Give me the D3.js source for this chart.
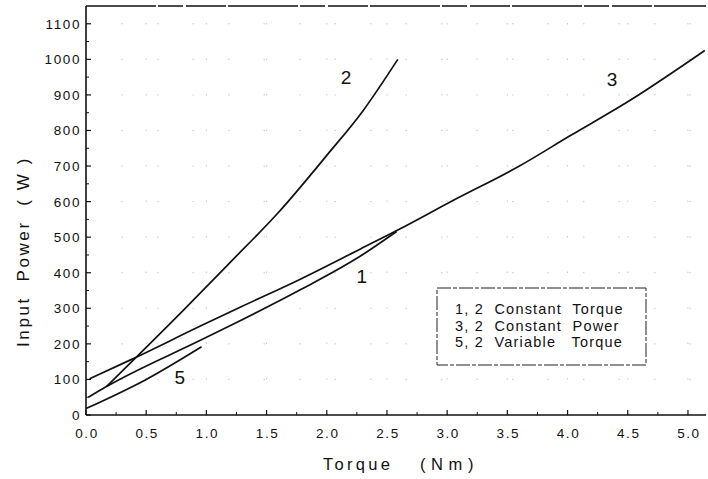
<!DOCTYPE html>
<html>
<head>
<meta charset="utf-8">
<script src="https://cdn.jsdelivr.net/npm/d3@7"></script>
<style>
  body { margin: 0; background: #fff; }
  text { font-family: "Liberation Sans", Arial, sans-serif; fill: #111; }
</style>
</head>
<body>
<div id="chart"></div>
<script>
// values
var curve1 = [[0.02,50],[0.17,80],[0.95,210],[1.28,265],[1.78,352],[2.28,447],[2.58,516]];
var curve2 = [[0.17,80],[0.38,150],[0.81,295],[1.2,430],[1.6,570],[2.0,730],[2.3,855],[2.59,1000]];
var curve3 = [[0.03,102],[0.37,155],[0.95,250],[1.28,303],[1.78,382],[2.28,467],[2.59,520],[3.06,605],[3.6,700],[4.02,785],[4.52,885],[5.14,1025]];
var curve5 = [[0.0,18],[0.5,100],[0.96,192]];

var curveLabels = [
  {t:"2", x:2.16, y:930},
  {t:"3", x:4.37, y:925},
  {t:"1", x:2.29, y:370},
  {t:"5", x:0.78, y:87}
];

var xTicks = [0,0.5,1,1.5,2,2.5,3,3.5,4,4.5,5];
var xMinor = [0.25,0.75,1.25,1.75,2.25,2.75,3.25,3.75,4.25,4.75];
var yTicks = [0,100,200,300,400,500,600,700,800,900,1000,1100];
var yMinor = [50,150,250,350,450,550,650,750,850,950,1050];
var legendLines = ["1, 2  Constant  Torque","3, 2  Constant  Power","5, 2  Variable   Torque"];

var W = 708, H = 479;
var svg = d3.select("#chart").append("svg")
  .attr("width", W)
  .attr("height", H);

var x = d3.scaleLinear().domain([0,5.15]).range([86,706]);
var y = d3.scaleLinear().domain([0,1150]).range([415,6]);

// faint dotted grid (scan leftovers)
var grid = svg.append("g").attr("stroke","#888").attr("stroke-width",1)
  .attr("stroke-dasharray","1.5,34").attr("opacity",0.45);
grid.selectAll(".gx").data(xTicks.slice(1)).enter().append("line")
  .attr("x1",function(d){return x(d);}).attr("x2",function(d){return x(d);})
  .attr("y1",y(0)).attr("y2",y(1150));
grid.selectAll(".gy").data(yTicks.slice(1)).enter().append("line")
  .attr("x1",x(0)).attr("x2",x(5.15))
  .attr("y1",function(d){return y(d);}).attr("y2",function(d){return y(d);});

// frame
svg.append("line").attr("x1",x(0)).attr("x2",x(0)).attr("y1",y(0)).attr("y2",y(1150))
  .attr("stroke","#111").attr("stroke-width",1.6);
svg.append("line").attr("x1",x(0)).attr("x2",x(5.15)).attr("y1",y(0)).attr("y2",y(0))
  .attr("stroke","#111").attr("stroke-width",1.6);
svg.append("line").attr("x1",x(0)).attr("x2",x(5.15)).attr("y1",y(1150)).attr("y2",y(1150))
  .attr("stroke","#111").attr("stroke-width",1.4).attr("stroke-dasharray","70,2,25,3,40,2");

// ticks
svg.selectAll(".ytk").data(yTicks).enter().append("line")
  .attr("x1",x(0)).attr("x2",x(0)+5)
  .attr("y1",function(d){return y(d);}).attr("y2",function(d){return y(d);})
  .attr("stroke","#111").attr("stroke-width",1.2);
svg.selectAll(".ytm").data(yMinor).enter().append("line")
  .attr("x1",x(0)).attr("x2",x(0)+3)
  .attr("y1",function(d){return y(d);}).attr("y2",function(d){return y(d);})
  .attr("stroke","#111").attr("stroke-width",1);
svg.selectAll(".xtk").data(xTicks).enter().append("line")
  .attr("x1",function(d){return x(d);}).attr("x2",function(d){return x(d);})
  .attr("y1",y(0)).attr("y2",y(0)-5)
  .attr("stroke","#111").attr("stroke-width",1.2);
svg.selectAll(".xtm").data(xMinor).enter().append("line")
  .attr("x1",function(d){return x(d);}).attr("x2",function(d){return x(d);})
  .attr("y1",y(0)).attr("y2",y(0)-3)
  .attr("stroke","#111").attr("stroke-width",1);

// tick labels
svg.selectAll(".ylab").data(yTicks).enter().append("text")
  .attr("x",81).attr("y",function(d){return y(d)+5;})
  .attr("text-anchor","end")
  .style("font-size","13.5px").style("letter-spacing","1.6px")
  .text(function(d){return d;});
svg.selectAll(".xlab").data(xTicks).enter().append("text")
  .attr("x",function(d){return x(d)+1;}).attr("y",438)
  .attr("text-anchor","middle")
  .style("font-size","13.5px").style("letter-spacing","1.6px")
  .text(function(d){return d.toFixed(1);});

// axis titles
svg.append("text").attr("x",323).attr("y",470)
  .style("font-size","16.5px").style("letter-spacing","3.3px")
  .text("Torque");
svg.append("text").attr("x",420).attr("y",470)
  .style("font-size","16.5px").style("letter-spacing","0.5px").style("white-space","pre")
  .text("( N m )");
svg.append("text").attr("transform","translate(29,347) rotate(-90)")
  .attr("text-anchor","start")
  .style("font-size","17px").style("letter-spacing","2.6px").style("white-space","pre")
  .text("Input  Power  ( W )");

// curves
var line = d3.line()
  .x(function(d){return x(d[0]);})
  .y(function(d){return y(d[1]);})
  .curve(d3.curveMonotoneX);

[curve1, curve2, curve3, curve5].forEach(function(c){
  svg.append("path").datum(c)
    .attr("d", line)
    .attr("fill","none")
    .attr("stroke","#111")
    .attr("stroke-width",1.7);
});

svg.selectAll(".clab").data(curveLabels).enter().append("text")
  .attr("x",function(d){return x(d.x);}).attr("y",function(d){return y(d.y);})
  .attr("text-anchor","middle")
  .style("font-size","19px")
  .text(function(d){return d.t;});

// legend
svg.append("rect").attr("x",437).attr("y",288).attr("width",209).attr("height",77)
  .attr("fill","#fff").attr("stroke","#222").attr("stroke-width",1)
  .attr("stroke-dasharray","14,2,4,2");
svg.selectAll(".leg").data(legendLines).enter().append("text")
  .attr("x",455).attr("y",function(d,i){return 314+i*16.5;})
  .style("font-size","14.5px").style("letter-spacing","1.2px").style("white-space","pre")
  .text(function(d){return d;});
</script>
</body>
</html>
